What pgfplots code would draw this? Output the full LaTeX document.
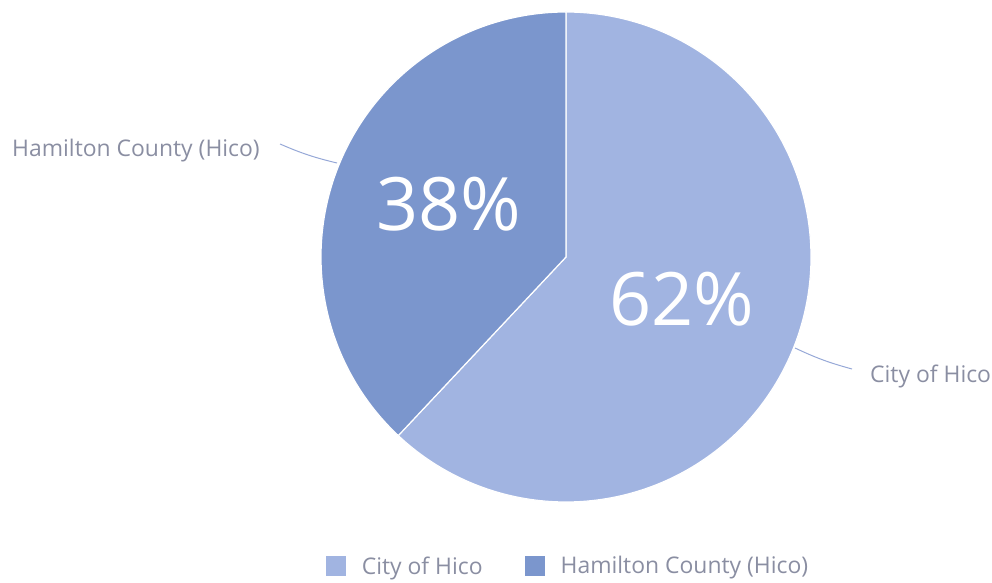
\documentclass[border=0pt]{standalone}
\usepackage{pgfplots}
\usepackage{pgfplotstable}
\usepackage{fontspec}
\setmainfont{Open Sans}
\pgfplotsset{compat=1.18}

\definecolor{cityc}{RGB}{161,180,225}
\definecolor{hamc}{RGB}{123,150,205}
\definecolor{textc}{RGB}{138,142,162}
\definecolor{linec}{RGB}{150,168,215}

\pgfplotstableread{
label value
City 62
Hamilton 38
}\piedata

\pgfplotstablegetelem{0}{value}\of\piedata \let\vA\pgfplotsretval
\pgfplotstablegetelem{1}{value}\of\piedata \let\vB\pgfplotsretval
\pgfmathsetmacro\aEnd{90-360*(\vA/(\vA+\vB))}
\pgfmathsetmacro\aEndB{\aEnd+360}

\begin{document}
\begin{tikzpicture}
\begin{axis}[
  hide axis,
  scale only axis,
  width=992bp, height=583bp,
  xmin=0, xmax=992, ymin=0, ymax=583,
  clip=false,
  legend columns=-1,
  legend style={at={(axis cs:568,17)}, anchor=center, draw=none, fill=none,
    font=\fontsize{23}{27}\selectfont, text=textc, inner sep=0pt,
    /tikz/every odd column/.append style={column sep=14bp},
    /tikz/every even column/.append style={column sep=40bp}},
  legend image code/.code={\fill[#1,draw=none] (0bp,-10bp) rectangle (20bp,10bp);},
]
% City of Hico
\addplot[fill=cityc, draw=white, line width=1.2pt, domain=\aEnd:90, samples=200, variable=\t]
  ({566+245*cos(\t)},{326+245*sin(\t)}) -- (axis cs:566,326) -- cycle;
\addlegendentry{City of Hico}
% Hamilton County (Hico)
\addplot[fill=hamc, draw=white, line width=1.2pt, domain=90:\aEndB, samples=200, variable=\t]
  ({566+245*cos(\t)},{326+245*sin(\t)}) -- (axis cs:566,326) -- cycle;
\addlegendentry{Hamilton County (Hico)}

\node[white, font=\fontsize{74}{74}\selectfont] at (axis cs:449,379) {38\%};
\node[white, font=\fontsize{74}{74}\selectfont] at (axis cs:682,284) {62\%};

\draw[linec, line width=1pt] (axis cs:280,439) to[bend right=5] (axis cs:337,420);
\draw[linec, line width=1pt] (axis cs:795,235) to[bend right=5] (axis cs:852,214);
\node[anchor=west, text=textc, font=\fontsize{23}{27}\selectfont, inner sep=0pt] at (axis cs:12,432) {Hamilton County (Hico)};
\node[anchor=west, text=textc, font=\fontsize{23}{27}\selectfont, inner sep=0pt] at (axis cs:870,207) {City of Hico};
\end{axis}
\path (current axis.south west) rectangle (current axis.north east);
\end{tikzpicture}
\end{document}
